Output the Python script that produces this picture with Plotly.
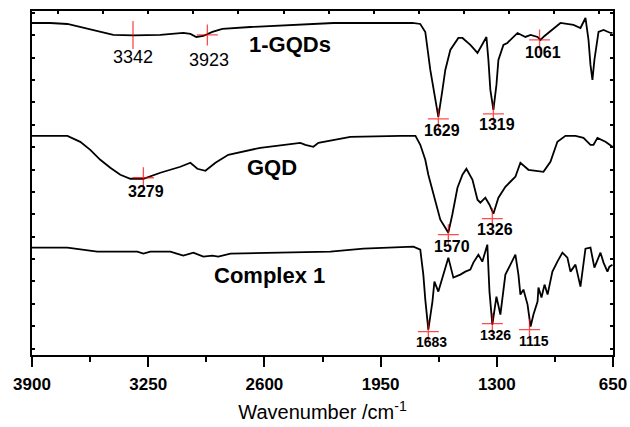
import plotly.graph_objects as go

# ---------------- data ----------------
wn_gqds = [3900, 3798, 3702, 3630, 3535, 3445, 3333, 3182, 3054, 3014, 2981, 2942, 2891, 2835, 2679,
           2455, 2371, 2214, 2007, 1772, 1728, 1700, 1672, 1644, 1627, 1604, 1588, 1560, 1515, 1492,
           1448, 1408, 1381, 1358, 1347, 1336, 1319, 1302, 1291, 1263, 1241, 1184, 1140, 1111, 1072,
           1056, 1033, 1000, 944, 871, 832, 804, 787, 776, 765, 754, 731, 703, 664, 653]
t_gqds = [332, 332, 331, 328, 324, 320, 319.5, 320, 322, 321, 318, 319, 323, 326, 328,
          330, 331, 332, 332, 332, 331, 323, 285, 255, 238, 265, 285, 305, 317, 317,
          310, 302, 310, 318, 295, 265, 245, 270, 295, 310, 312, 322, 318, 320, 318,
          315, 319, 324, 332, 330, 327, 337, 315, 290, 275, 295, 323, 325, 322, 322]

wn_gqd = [3900, 3702, 3630, 3574, 3518, 3462, 3406, 3350, 3277, 3182, 3070, 3014, 2975, 2930, 2874,
          2802, 2623, 2399, 2371, 2326, 2298, 2119, 1839, 1755, 1728, 1700, 1683, 1660, 1644, 1616,
          1588, 1571, 1549, 1520, 1492, 1470, 1436, 1408, 1392, 1364, 1341, 1319, 1291, 1252, 1196,
          1168, 1123, 1039, 1000, 961, 916, 860, 815, 776, 759, 737, 692, 653]
t_gqd = [219, 219, 213, 205, 195, 187, 180, 176, 176, 182, 188, 192, 186, 184, 192,
         200, 207, 212, 210, 208, 212, 218, 219, 219, 210, 195, 180, 165, 153, 135,
         127, 122, 140, 167, 180, 186, 175, 155, 152, 157, 150, 141, 157, 168, 178,
         192, 185, 183, 193, 213, 219, 219, 217, 210, 210, 217, 213, 208]

wn_cx = [3900, 3702, 3535, 3311, 3277, 3238, 3126, 3054, 2997, 2942, 2891, 2858, 2790, 2416, 2231,
         2046, 1766, 1728, 1711, 1700, 1683, 1660, 1649, 1627, 1599, 1571, 1543, 1504, 1476, 1448,
         1431, 1403, 1381, 1353, 1341, 1325, 1302, 1280, 1252, 1224, 1196, 1179, 1168, 1151, 1128,
         1111, 1095, 1072, 1067, 1050, 1033, 1016, 989, 961, 933, 905, 888, 860, 832, 804,
         776, 754, 720, 703, 681, 670, 653]
t_cx = [107, 107, 103, 103, 101, 103, 103, 99, 102, 98, 99, 98, 101, 102, 103,
        106, 108, 105, 80, 55, 25, 53, 73, 63, 80, 97, 77, 80, 83, 85,
        92, 100, 93, 110, 63, 30, 58, 40, 80, 90, 100, 80, 60, 65, 50,
        28, 40, 53, 67, 57, 70, 60, 83, 93, 102, 97, 83, 90, 68, 106,
        107, 87, 102, 92, 83, 88, 90]

# peak marks
peak_wn = [3335, 2919, 1627, 1319, 1061, 3277, 1571, 1325, 1683, 1325, 1117]
peak_t = [320, 320, 236, 241, 315, 177, 120, 136, 23, 31, 25]
peak_text = ["3342", "3923", "1629", "1319", "1061", "3279", "1570", "1326", "1683", "1326", "1115"]

series_names = ["1-GQDs", "GQD", "Complex 1"]
x_ticks = [3900, 3250, 2600, 1950, 1300, 650]

# ---------------- styles ----------------
FONT = "Liberation Sans, Arial, sans-serif"
peak_symbols = ["line-ns"] + ["cross-thin"] * 10
peak_sizes = [20] + [15] * 10
label_style = [  # (xshift, yshift, size, bold)
    (0, -22, 18, False), (2, -25, 18, False),
    (4, -12, 16, True), (4, -11, 16, True), (3, -13, 16, True),
    (3, -14, 16, True), (4, -12, 16, True), (3, -11, 16, True),
    (3, -10, 14, True), (3, -11, 14, True), (4, -11, 14, True),
]
name_pos = [(2455, 310), (2556, 187), (2573, 79)]

fig = go.Figure()
for wn, t in [(wn_gqds, t_gqds), (wn_gqd, t_gqd), (wn_cx, t_cx)]:
    fig.add_trace(go.Scatter(x=wn, y=t, mode="lines",
                             line=dict(color="black", width=1.8), showlegend=False,
                             hoverinfo="skip"))

fig.add_trace(go.Scatter(x=peak_wn, y=peak_t, mode="markers", showlegend=False,
                         marker=dict(symbol=peak_symbols, size=peak_sizes, color="red",
                                     line=dict(color="red", width=1.3))))

# invisible trace for the top axis
fig.add_trace(go.Scatter(x=[x_ticks[0], x_ticks[-1]], y=[0, 0], xaxis="x2", mode="markers",
                         marker=dict(opacity=0), showlegend=False, hoverinfo="skip"))

for (x, y, txt), (dx, dy, sz, bold) in zip(zip(peak_wn, peak_t, peak_text), label_style):
    fig.add_annotation(x=x, y=y, text=f"<b>{txt}</b>" if bold else txt, showarrow=False,
                       xshift=dx, yshift=dy, font=dict(family=FONT, size=sz, color="black"))

for name, (x, y) in zip(series_names, name_pos):
    fig.add_annotation(x=x, y=y, text=f"<b>{name}</b>", showarrow=False,
                       font=dict(family=FONT, size=22, color="black"))

fig.update_layout(
    width=630, height=427,
    margin=dict(l=32, r=17, t=11, b=72),
    paper_bgcolor="white", plot_bgcolor="white",
    font=dict(family=FONT, color="black"),
    xaxis=dict(range=[3900, 650], tickvals=x_ticks, automargin=False,
               ticktext=[f"<b>{v}</b>" for v in x_ticks],
               tickfont=dict(size=17), ticks="outside", ticklen=10, tickwidth=2,
               tickcolor="black", ticklabelstandoff=3,
               minor=dict(tickvals=[3575, 2925, 2275, 1625, 975], ticks="outside",
                          ticklen=5, tickwidth=2, tickcolor="black"),
               showline=True, linecolor="black", linewidth=2, mirror=True,
               showgrid=False, zeroline=False,
               title=dict(text="Wavenumber /cm<sup>-1</sup>", font=dict(size=20), standoff=12)),
    xaxis2=dict(range=[3900, 650], overlaying="x", side="top", tick0=3753, dtick=252,
                ticks="inside", ticklen=3, tickwidth=1.5, tickcolor="black", automargin=False,
                showticklabels=False, showline=False, showgrid=False, zeroline=False),
    yaxis=dict(range=[-0.5, 344], tick0=6, dtick=22.4, ticks="inside", ticklen=3,
               tickwidth=1.5, tickcolor="black", showticklabels=False, automargin=False,
               showline=True, linecolor="black", linewidth=2, mirror="ticks",
               showgrid=False, zeroline=False),
)

fig.write_html("out.html")
